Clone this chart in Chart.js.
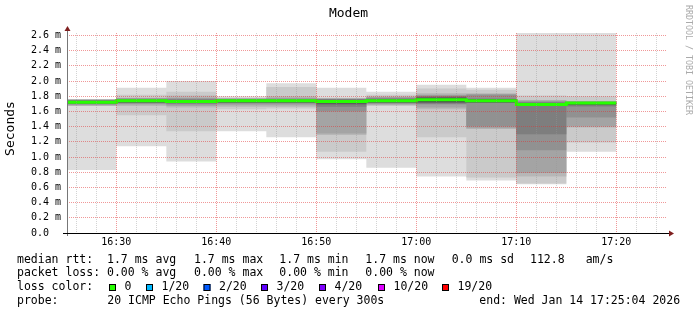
<!DOCTYPE html>
<html>
<head>
<meta charset="utf-8">
<script src="https://cdn.jsdelivr.net/npm/chart.js@4"></script>
<style>
  html, body { margin: 0; padding: 0; background: #fff; }
</style>
</head>
<body>
<canvas id="modemChart" width="697" height="315"></canvas>
<script>
// 5-minute bins, labelled by their end time
const binEnds = ["16:30", "16:35", "16:40", "16:45", "16:50", "16:55", "17:00", "17:05", "17:10", "17:15", "17:20"];
const endTime = "17:25:04";
const medianRtt = [1.72, 1.74, 1.73, 1.74, 1.74, 1.73, 1.74, 1.755, 1.74, 1.69, 1.71];

// 20 sorted ping round trips (ms) per bin
const pings1630 = [0.83, 1.67, 1.67, 1.68, 1.69, 1.70, 1.70, 1.71, 1.71, 1.72, 1.725, 1.73, 1.735, 1.74, 1.745, 1.75, 1.755, 1.76, 1.76, 1.765];
const pings1635 = [1.14, 1.55, 1.67, 1.69, 1.70, 1.71, 1.715, 1.72, 1.725, 1.73, 1.74, 1.745, 1.75, 1.755, 1.76, 1.77, 1.775, 1.78, 1.82, 1.91];
const pings1640 = [0.94, 1.34, 1.65, 1.67, 1.69, 1.70, 1.71, 1.715, 1.72, 1.725, 1.735, 1.74, 1.745, 1.75, 1.76, 1.77, 1.78, 1.81, 1.86, 2.00];
const pings1645 = [1.34, 1.63, 1.66, 1.68, 1.70, 1.71, 1.715, 1.72, 1.725, 1.73, 1.74, 1.745, 1.75, 1.755, 1.76, 1.765, 1.77, 1.775, 1.78, 1.80];
const pings1650 = [1.26, 1.64, 1.66, 1.68, 1.70, 1.71, 1.715, 1.72, 1.725, 1.73, 1.74, 1.745, 1.75, 1.755, 1.76, 1.77, 1.78, 1.80, 1.92, 1.97];
const pings1655 = [0.97, 1.07, 1.29, 1.31, 1.60, 1.66, 1.69, 1.70, 1.71, 1.72, 1.74, 1.745, 1.75, 1.755, 1.76, 1.765, 1.77, 1.775, 1.78, 1.91];
const pings1700 = [0.86, 1.67, 1.68, 1.69, 1.70, 1.71, 1.715, 1.72, 1.725, 1.73, 1.745, 1.75, 1.755, 1.76, 1.77, 1.78, 1.79, 1.80, 1.82, 1.86];
const pings1705 = [0.745, 1.26, 1.63, 1.65, 1.69, 1.70, 1.71, 1.72, 1.73, 1.745, 1.765, 1.77, 1.78, 1.79, 1.80, 1.81, 1.82, 1.84, 1.90, 1.95];
const pings1710 = [0.69, 0.73, 1.37, 1.38, 1.40, 1.71, 1.715, 1.72, 1.725, 1.73, 1.75, 1.755, 1.76, 1.765, 1.77, 1.82, 1.83, 1.84, 1.885, 1.91];
const pings1715 = [0.64, 0.65, 0.745, 0.79, 1.09, 1.30, 1.675, 1.68, 1.68, 1.685, 1.695, 1.70, 1.705, 1.71, 1.72, 1.73, 1.745, 1.75, 1.81, 2.70];
const pings1720 = [1.07, 1.19, 1.39, 1.40, 1.52, 1.665, 1.68, 1.69, 1.695, 1.70, 1.715, 1.72, 1.72, 1.725, 1.725, 1.73, 1.73, 1.735, 1.80, 2.70];
const pingBins = [pings1630, pings1635, pings1640, pings1645, pings1650, pings1655, pings1700, pings1705, pings1710, pings1715, pings1720];

const rttStats = ["1.7 ms avg", "1.7 ms max", "1.7 ms min", "1.7 ms now", "0.0 ms sd", "112.8", "am/s"];
const lossStats = ["0.00 % avg", "0.00 % max", "0.00 % min", "0.00 % now"];
const lossLabels = ["0", "1/20", "2/20", "3/20", "4/20", "10/20", "19/20"];
const lossColors = ["#26ff00", "#00b8ff", "#0059ff", "#5e00ff", "#7e00ff", "#dd00ff", "#ff0000"];
const probeText = "20 ICMP Echo Pings (56 Bytes) every 300s";
const endText = "end: Wed Jan 14 17:25:04 2026";

const MONO = "'DejaVu Sans Mono', monospace";
const toMin = s => { const p = s.split(":").map(Number); return (p[0] - 16) * 60 + p[1] + (p[2] || 0) / 60; };
const xMax = toMin(endTime);
const xMin = xMax - 60;
const yMax = 2.632;
const fmtTime = m => (16 + Math.floor(m / 60)) + ":" + String(m % 60).padStart(2, "0");

// stepped points: each bin holds its value from start to end
function stepPoints(vals) {
  const pts = binEnds.map((e, i) => ({ x: toMin(e) - 5, y: vals[i] }));
  pts.push({ x: toMin(binEnds[binEnds.length - 1]), y: vals[vals.length - 1] });
  return pts;
}

const datasets = [{
  label: "median",
  data: stepPoints(medianRtt),
  stepped: true,
  borderColor: lossColors[0],
  borderWidth: 3,
  pointRadius: 0,
  fill: false,
}];
const half = 10;
for (let ii = half; ii >= 1; ii--) {
  const g = Math.floor(190 / half * (half - ii)) + 50;
  const grey = `rgb(${g},${g},${g})`;
  datasets.push({
    data: stepPoints(pingBins.map(p => p[ii - 1])),
    stepped: true, borderWidth: 0, borderColor: "transparent", pointRadius: 0, fill: false,
  });
  datasets.push({
    data: stepPoints(pingBins.map(p => p[20 - ii])),
    stepped: true, borderWidth: 0, borderColor: "transparent", pointRadius: 0,
    backgroundColor: grey, fill: "-1",
  });
}

const minorGrid = "rgba(150,150,150,0.42)";
const majorGrid = "rgba(225,50,50,0.5)";

const decor = {
  id: "decor",
  afterDraw(chart) {
    const { ctx, chartArea: a } = chart;
    ctx.save();
    // axes
    ctx.lineWidth = 1;
    ctx.strokeStyle = "#777";
    ctx.beginPath(); ctx.moveTo(a.left + 0.5, a.bottom + 3); ctx.lineTo(a.left + 0.5, a.top - 2); ctx.stroke();
    ctx.strokeStyle = "#000";
    ctx.beginPath(); ctx.moveTo(a.left - 4, a.bottom + 0.5); ctx.lineTo(a.right + 2, a.bottom + 0.5); ctx.stroke();
    ctx.fillStyle = "#7f1f1f";
    ctx.beginPath(); ctx.moveTo(a.left + 0.5, a.top - 7); ctx.lineTo(a.left - 2.5, a.top - 2); ctx.lineTo(a.left + 3.5, a.top - 2); ctx.closePath(); ctx.fill();
    ctx.beginPath(); ctx.moveTo(a.right + 7, a.bottom + 0.5); ctx.lineTo(a.right + 2, a.bottom - 2.5); ctx.lineTo(a.right + 2, a.bottom + 3.5); ctx.closePath(); ctx.fill();

    // title
    ctx.fillStyle = "#000";
    ctx.font = "13px " + MONO;
    ctx.textAlign = "center"; ctx.textBaseline = "middle";
    ctx.fillText("Modem", 348.5, 13.5);
    // y title
    ctx.save();
    ctx.translate(10.5, 128.5); ctx.rotate(-Math.PI / 2);
    ctx.fillText("Seconds", 0, 0);
    ctx.restore();
    // watermark
    ctx.save();
    ctx.fillStyle = "#aaa";
    ctx.font = "8.3px " + MONO;
    ctx.translate(688.5, 5); ctx.rotate(Math.PI / 2);
    ctx.textAlign = "left";
    ctx.fillText("RRDTOOL / TOBI OETIKER", 0, 0);
    ctx.restore();

    // legend
    ctx.font = "11.5px " + MONO;
    ctx.textAlign = "left"; ctx.fillStyle = "#000";
    const rows = [260, 273.5, 287.5, 301.5];
    ctx.fillText("median rtt:", 17, rows[0]);
    const rttX = [107, 194, 279.3, 365.3, 451.7, 530, 585.7];
    rttStats.forEach((s, i) => ctx.fillText(s, rttX[i], rows[0]));
    ctx.fillText("packet loss:", 17, rows[1]);
    lossStats.forEach((s, i) => ctx.fillText(s, rttX[i], rows[1]));
    ctx.fillText("loss color:", 17, rows[2]);
    const boxX = [109, 146, 203.5, 261, 319, 378, 442];
    lossLabels.forEach((s, i) => {
      ctx.fillStyle = lossColors[i];
      ctx.fillRect(boxX[i], rows[2] - 3.5, 7, 7);
      ctx.strokeStyle = "#000";
      ctx.strokeRect(boxX[i] + 0.5, rows[2] - 3.5 + 0.5, 6, 6);
      ctx.fillStyle = "#000";
      ctx.fillText(s, boxX[i] + 15.5, rows[2]);
    });
    ctx.fillText("probe:", 17, rows[3]);
    ctx.fillText(probeText, 107.3, rows[3]);
    ctx.fillText(endText, 479.3, rows[3]);
    ctx.restore();
  }
};

new Chart(document.getElementById("modemChart"), {
  type: "line",
  data: { datasets },
  options: {
    responsive: false,
    animation: false,
    events: [],
    layout: { padding: { left: 31, right: 30, top: 33, bottom: 66 } },
    plugins: { legend: { display: false }, tooltip: { enabled: false }, filler: { propagate: false } },
    scales: {
      x: {
        type: "linear", min: xMin, max: xMax,
        afterBuildTicks: s => {
          const t = [];
          for (let m = Math.ceil(xMin / 2) * 2; m <= xMax; m += 2) t.push({ value: m });
          s.ticks = t;
        },
        afterFit: s => { s.height = 16; },
        grid: { z: 1, drawTicks: false, color: c => (c.tick && c.tick.value % 10 === 0) ? majorGrid : minorGrid },
        border: { display: false, dash: [1, 1] },
        ticks: {
          autoSkip: false, maxRotation: 0, padding: 3, color: "#000",
          font: { family: MONO, size: 10 },
          callback: v => v % 10 === 0 ? fmtTime(v) : "",
        },
      },
      y: {
        min: 0, max: yMax,
        afterBuildTicks: s => {
          const t = [];
          for (let k = 0; k <= 26; k++) t.push({ value: k / 10 });
          s.ticks = t;
        },
        afterFit: s => { s.width = 36; },
        grid: { z: 1, drawTicks: false, color: c => (c.tick && Math.round(c.tick.value * 10) % 2 === 0) ? majorGrid : minorGrid },
        border: { display: false, dash: [1, 1] },
        ticks: {
          crossAlign: "far", color: "#000",
          font: { family: MONO, size: 10 },
          callback: v => {
            const k = Math.round(v * 10);
            if (k % 2) return "";
            return k === 0 ? "0.0" : (k / 10).toFixed(1) + " m";
          },
        },
      },
    },
  },
  plugins: [decor],
});
</script>
</body>
</html>
